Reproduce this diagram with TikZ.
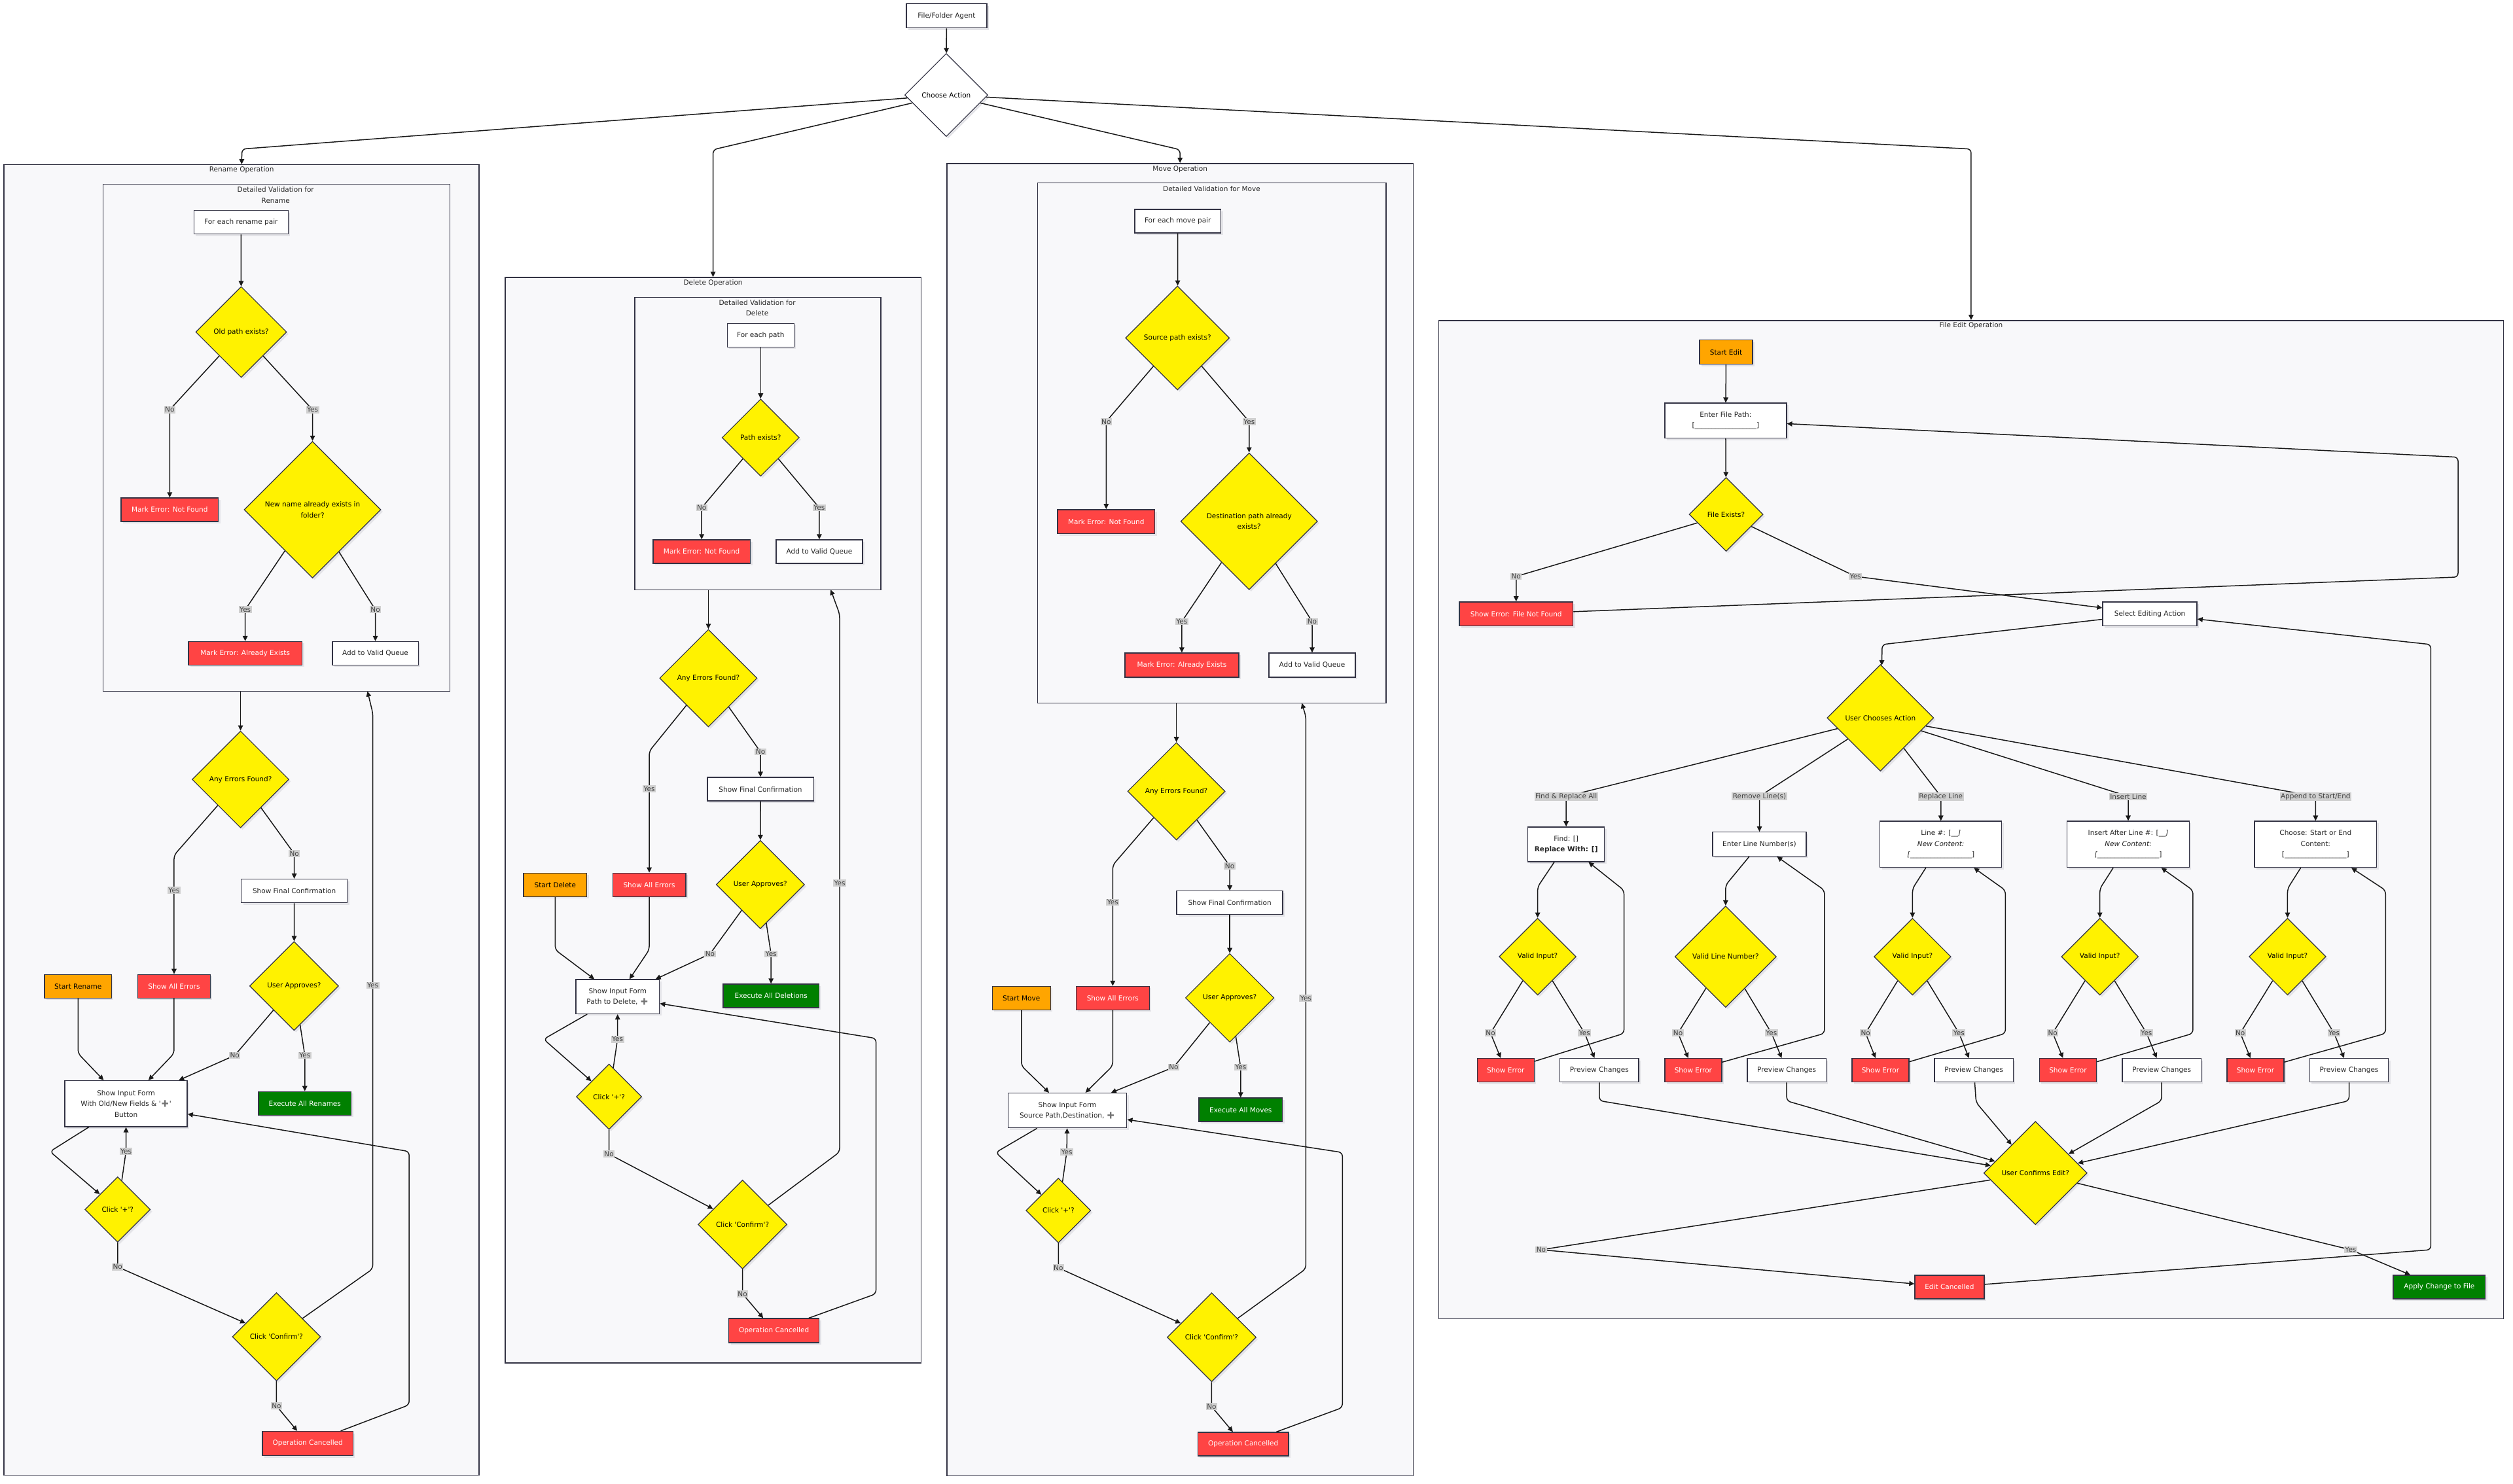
\documentclass[tikz,border=0pt]{standalone}
\usepackage{fontspec}
\setmainfont{DejaVu Sans}
\newfontfamily\emojifont{Noto Emoji}
\usepackage[dvipsnames,svgnames,x11names]{xcolor}
\usepackage{tikz}
\usetikzlibrary{arrows.meta,shapes.geometric,shadows}
\definecolor{frameline}{RGB}{51,51,68}
\definecolor{clusterbg}{RGB}{248,248,250}
\definecolor{errred}{RGB}{255,68,68}
\definecolor{startorange}{RGB}{255,165,0}
\definecolor{okgreen}{RGB}{0,128,0}
\definecolor{labelgray}{RGB}{208,208,208}
\definecolor{shadegray}{RGB}{228,228,232}
\newcommand{\sq}{\textquotesingle}
\newcommand{\plusicon}{{\emojifont\color{black!55}➕}}
\newcommand{\fieldline}{[\_\_\_\_\_\_\_\_\_\_\_\_\_\_\_\_\_\_]}

\begin{document}
\begin{tikzpicture}[font=\fontsize{10.5}{16.5}\selectfont,>={Triangle[length=8pt,width=7.5pt]},x=2.449pt,y=-2.449pt,
  cluster/.style={rectangle,draw=frameline,fill=clusterbg,line width=1.4pt,inner sep=0pt},
  ctitle/.style={text=black!85,align=center,inner sep=1pt},
  box/.style={rectangle,draw=frameline,fill=white,text=black!85,line width=1.4pt,align=center,inner sep=2pt,minimum height=36pt,drop shadow={shadow xshift=3pt,shadow yshift=-3pt,fill=shadegray,opacity=1}},
  errbox/.style={box,fill=errred,text=white},
  startbox/.style={box,fill=startorange,text=black},
  okbox/.style={box,fill=okgreen,text=white},
  dec/.style={diamond,aspect=1,draw=frameline,fill=yellow,text=black,line width=1.2pt,inner sep=0pt,align=center,drop shadow={shadow xshift=3pt,shadow yshift=-3pt,fill=shadegray,opacity=1}},
  edge/.style={->,draw=black!90,line width=1.5pt,rounded corners=6pt},
  elabel/.style={fill=labelgray,text=black!75,inner sep=1.5pt,sharp corners}]
\path[use as bounding box,fill=white] (0,0) rectangle (1568,926);

% groups
\node[cluster,minimum width=726pt,minimum height=2003pt] (rename) at (150.75,511.75) {};
\node[cluster,minimum width=530.5pt,minimum height=775pt] (rnval) at (172.5,273.15) {};
\node[cluster,minimum width=635.3pt,minimum height=1659pt] (delete) at (444.9,511.85) {};
\node[cluster,minimum width=376pt,minimum height=447pt] (delval) at (472.85,276.75) {};
\node[cluster,minimum width=712.2pt,minimum height=2005.7pt] (move) at (736.3,511.5) {};
\node[cluster,minimum width=532.7pt,minimum height=795pt] (mvval) at (756.05,276.5) {};
\node[cluster,minimum width=1627pt,minimum height=1525.7pt] (fileedit) at (1229.85,511.5) {};
\node[ctitle] (rename_t) at (150.75,106) {Rename Operation};
\node[ctitle] (rnval_t) at (172,121.8) {Detailed Validation for\\Rename};
\node[ctitle] (delete_t) at (444.9,176.6) {Delete Operation};
\node[ctitle] (delval_t) at (472.5,192.1) {Detailed Validation for\\Delete};
\node[ctitle] (move_t) at (736.3,105.5) {Move Operation};
\node[ctitle] (mvval_t) at (756,117.7) {Detailed Validation for Move};
\node[ctitle] (fileedit_t) at (1229.85,203.3) {File Edit Operation};

% top
\node[box,minimum width=123pt,minimum height=37pt] (agent) at (590.6,9.9) {File/Folder Agent};
\node[dec,fill=white,minimum size=127pt] (choose) at (590.4,59.3) {Choose Action};

% rename
\node[box,minimum width=144pt] (rn_each) at (150.4,138.7) {For each rename pair};
\node[dec,minimum size=139pt] (rn_old) at (150.5,207.2) {Old path exists?};
\node[errbox,minimum width=148.7pt] (rn_nf) at (105.9,318.1) {Mark Error: Not Found};
\node[dec,minimum size=209pt] (rn_new) at (195,318.1) {New name already exists in\\folder?};
\node[errbox,minimum width=173.7pt] (rn_ae) at (153,407.7) {Mark Error: Already Exists};
\node[box,minimum width=131.5pt] (rn_q) at (234.2,407.7) {Add to Valid Queue};
\node[dec,minimum size=148pt] (rn_err) at (150.1,486.4) {Any Errors Found?};
\node[box,minimum width=162pt] (rn_final) at (183.6,556) {Show Final Confirmation};
\node[dec,minimum size=136pt] (rn_appr) at (183.5,615.3) {User Approves?};
\node[startbox,minimum width=102.4pt] (rn_start) at (48.7,615.5) {Start Rename};
\node[errbox,minimum width=110.8pt] (rn_showerr) at (108.6,615.5) {Show All Errors};
\node[okbox,minimum width=141.6pt] (rn_exec) at (190.2,688.6) {Execute All Renames};
\node[box,minimum width=186.9pt,minimum height=70.3pt] (rn_form) at (78.65,688.75) {Show Input Form\\With Old/New Fields \& \sq\plusicon\sq\\Button};
\node[dec,minimum size=100pt] (rn_plus) at (73.4,754.8) {Click \sq+\sq?};
\node[dec,minimum size=135pt] (rn_conf) at (172.5,834.2) {Click \sq Confirm\sq?};
\node[errbox,minimum width=138.4pt,minimum height=37pt] (rn_cancel) at (192,900.8) {Operation Cancelled};
\coordinate (rn_back) at (229.3,431.4);

% delete
\node[box,minimum width=102pt] (del_each) at (474.6,209.2) {For each path};
\node[dec,minimum size=118pt] (del_path) at (474.6,273.1) {Path exists?};
\node[errbox,minimum width=148.7pt] (del_nf) at (437.8,344.2) {Mark Error: Not Found};
\node[box,minimum width=132pt] (del_q) at (511.2,344.2) {Add to Valid Queue};
\node[dec,minimum size=149pt] (del_err) at (442,423.2) {Any Errors Found?};
\node[box,minimum width=162.4pt] (del_final) at (474.5,492.5) {Show Final Confirmation};
\node[dec,minimum size=135pt] (del_appr) at (474.4,552) {User Approves?};
\node[startbox,minimum width=96.8pt] (del_start) at (346.4,552.2) {Start Delete};
\node[errbox,minimum width=111.6pt] (del_showerr) at (405.1,552.2) {Show All Errors};
\node[okbox,minimum width=146.2pt] (del_exec) at (481.1,621.5) {Execute All Deletions};
\node[box,minimum width=127.6pt,minimum height=52.2pt] (del_form) at (385.4,622) {Show Input Form\\Path to Delete, \plusicon};
\node[dec,minimum size=100pt] (del_plus) at (380,684.4) {Click \sq+\sq?};
\node[dec,minimum size=136pt] (del_conf) at (463.3,764.1) {Click \sq Confirm\sq?};
\node[errbox,minimum width=138pt,minimum height=37pt] (del_cancel) at (482.9,830.4) {Operation Cancelled};
\coordinate (del_back) at (518.3,368);

% move
\node[box,minimum width=131.5pt] (mv_each) at (734.9,138) {For each move pair};
\node[dec,minimum size=159pt] (mv_src) at (734.7,210.9) {Source path exists?};
\node[errbox,minimum width=148.4pt,minimum height=36.7pt] (mv_nf) at (690.2,325.5) {Mark Error: Not Found};
\node[dec,minimum size=209pt] (mv_dst) at (779.4,325.3) {Destination path already\\exists?};
\node[errbox,minimum width=174.1pt,minimum height=37pt] (mv_ae) at (737.4,415.1) {Mark Error: Already Exists};
\node[box,minimum width=131.8pt,minimum height=37pt] (mv_q) at (818.7,415.1) {Add to Valid Queue};
\node[dec,minimum size=149pt] (mv_err) at (734,493.8) {Any Errors Found?};
\node[box,minimum width=162pt] (mv_final) at (767.3,563.4) {Show Final Confirmation};
\node[dec,minimum size=135.5pt] (mv_appr) at (767.3,622.7) {User Approves?};
\node[startbox,minimum width=89pt] (mv_start) at (637.3,622.9) {Start Move};
\node[errbox,minimum width=111.7pt] (mv_showerr) at (694.3,622.9) {Show All Errors};
\node[okbox,minimum width=127.6pt] (mv_exec) at (774.1,692.6) {Execute All Moves};
\node[box,minimum width=181.5pt,minimum height=53pt] (mv_form) at (666,693) {Show Input Form\\Source Path,Destination, \plusicon};
\node[dec,minimum size=99pt] (mv_plus) at (660.4,755.4) {Click \sq+\sq?};
\node[dec,minimum size=136pt] (mv_conf) at (756,834.5) {Click \sq Confirm\sq?};
\node[errbox,minimum width=138.4pt] (mv_cancel) at (775.7,901.2) {Operation Cancelled};
\coordinate (mv_back) at (812.3,438.8);

% file edit
\node[startbox,minimum width=80.8pt,minimum height=37pt] (fe_start) at (1077,219.8) {Start Edit};
\node[box,minimum width=186pt,minimum height=53.4pt] (fe_path) at (1076.7,262.5) {Enter File Path:\\\fieldline};
\node[dec,minimum size=113pt] (fe_exists) at (1077,321) {File Exists?};
\node[errbox,minimum width=173.6pt,minimum height=36.7pt] (fe_nf) at (946,383.1) {Show Error: File Not Found};
\node[box,minimum width=144pt,minimum height=36.7pt] (fe_select) at (1341.4,383.1) {Select Editing Action};
\node[dec,minimum size=163pt] (fe_choose) at (1173.3,448) {User Chooses Action};
\node[box,minimum width=117pt,minimum height=53pt] (fe_find) at (977.2,526.9) {Find: []\\\textbf{Replace With: []}};
\node[box,minimum width=143pt,minimum height=36.7pt] (fe_rmv) at (1097.8,526.8) {Enter Line Number(s)};
\node[box,minimum width=186pt,minimum height=70.5pt] (fe_rpl) at (1211,526.9) {Line \#: [\_\textit{\_]}\\\textit{New Content:}\\\textit{[}\_\_\_\_\_\_\_\_\_\_\_\_\_\_\_\_\_\_]};
\node[box,minimum width=186.6pt,minimum height=70.5pt] (fe_ins) at (1327.9,526.9) {Insert After Line \#: [\_\textit{\_]}\\\textit{New Content:}\\\textit{[}\_\_\_\_\_\_\_\_\_\_\_\_\_\_\_\_\_\_]};
\node[box,minimum width=186.4pt,minimum height=70.5pt] (fe_app) at (1444.8,526.9) {Choose: Start or End\\Content:\\\fieldline};
\node[dec,minimum size=117.6pt] (fe_v1) at (959.4,597) {Valid Input?};
\node[dec,minimum size=155pt] (fe_v2) at (1076.7,597) {Valid Line Number?};
\node[dec,minimum size=117.6pt] (fe_v3) at (1193.3,597) {Valid Input?};
\node[dec,minimum size=117.6pt] (fe_v4) at (1310.2,597) {Valid Input?};
\node[dec,minimum size=117.6pt] (fe_v5) at (1427.3,597) {Valid Input?};
\node[errbox,minimum width=87pt] (fe_e1) at (939.5,667.9) {Show Error};
\node[errbox,minimum width=87pt] (fe_e2) at (1056.5,667.9) {Show Error};
\node[errbox,minimum width=87pt] (fe_e3) at (1173.3,667.9) {Show Error};
\node[errbox,minimum width=87pt] (fe_e4) at (1290.3,667.9) {Show Error};
\node[errbox,minimum width=87pt] (fe_e5) at (1407.3,667.9) {Show Error};
\node[box,minimum width=120.5pt] (fe_p1) at (997.9,667.9) {Preview Changes};
\node[box,minimum width=120.5pt] (fe_p2) at (1114.8,667.9) {Preview Changes};
\node[box,minimum width=120.5pt] (fe_p3) at (1231.6,667.9) {Preview Changes};
\node[box,minimum width=120.5pt] (fe_p4) at (1348.8,667.9) {Preview Changes};
\node[box,minimum width=120.5pt] (fe_p5) at (1465.7,667.9) {Preview Changes};
\node[dec,minimum size=158pt] (fe_confirm) at (1270,732) {User Confirms Edit?};
\node[errbox,minimum width=105.8pt] (fe_cancel) at (1216.4,803.2) {Edit Cancelled};
\node[okbox,minimum width=140.6pt] (fe_apply) at (1522,803.2) {Apply Change to File};

% top edges
\draw[edge] (agent) -- (choose);
\draw[edge] (choose) -- (151,93) -- (rename.north);
\draw[edge] (choose) -- (444.9,93.4) -- (delete.north);
\draw[edge] (choose) -- (736.3,93.4) -- (move.north);
\draw[edge] (choose) -- (1229.85,93) -- (fileedit.north);

% rename edges
\draw[edge] (rn_each) -- (rn_old);
\draw[edge] (rn_old) -- (105.9,255.7) node[elabel] {No} -- (rn_nf);
\draw[edge] (rn_old) -- (195,255.7) node[elabel] {Yes} -- (rn_new);
\draw[edge] (rn_new) -- (153,380.5) node[elabel] {Yes} -- (rn_ae);
\draw[edge] (rn_new) -- (234.2,380.5) node[elabel] {No} -- (rn_q);
\draw[edge] (rnval.south -| rn_err) -- (rn_err);
\draw[edge] (rn_err) -- (108.6,533.7) -- (108.6,555.6) node[elabel] {Yes} -- (rn_showerr);
\draw[edge] (rn_err) -- (183.6,532.8) node[elabel] {No} -- (rn_final);
\draw[edge] (rn_final) -- (rn_appr);
\draw[edge] (rn_appr) -- (146.5,658.6) node[elabel] {No} -- (rn_form);
\draw[edge] (rn_appr) -- (190.2,658.6) node[elabel] {Yes} -- (rn_exec);
\draw[edge] (rn_start) -- (48.7,657.4) -- (rn_form);
\draw[edge] (rn_showerr) -- (108.6,657.4) -- (rn_form);
\draw[edge] (rn_form) -- (31.2,718.6) -- (rn_plus);
\draw[edge] (rn_plus) -- (78.6,718.6) node[elabel] {Yes} -- (rn_form);
\draw[edge] (rn_plus) -- (73.4,790.6) node[elabel] {No} -- (rn_conf);
\draw[edge] (rn_conf) -- (172.5,877.4) node[elabel] {No} -- (rn_cancel);
\draw[edge] (rn_cancel) -- (255.3,876.7) -- (255.3,718.6) -- (rn_form);
\draw[edge] (rn_conf) -- (232.6,791.8) -- node[elabel,pos=0.51] {Yes} (232.6,445) -- (rn_back);

% delete edges
\draw[edge] (del_each) -- (del_path);
\draw[edge] (del_path) -- (437.8,316.9) node[elabel] {No} -- (del_nf);
\draw[edge] (del_path) -- (511.2,316.9) node[elabel] {Yes} -- (del_q);
\draw[edge] (delval.south -| del_err) -- (del_err);
\draw[edge] (del_err) -- (405.1,468.8) -- (405.1,492.2) node[elabel] {Yes} -- (del_showerr);
\draw[edge] (del_err) -- (474.5,469.2) node[elabel] {No} -- (del_final);
\draw[edge] (del_final) -- (del_appr);
\draw[edge] (del_appr) -- (443,595.3) node[elabel] {No} -- (del_form);
\draw[edge] (del_appr) -- (481.1,595.3) node[elabel] {Yes} -- (del_exec);
\draw[edge] (del_start) -- (346.4,592.7) -- (del_form);
\draw[edge] (del_showerr) -- (405.1,592.7) -- (del_form);
\draw[edge] (del_form) -- (339.2,648.5) -- (del_plus);
\draw[edge] (del_plus) -- (385.3,648.5) node[elabel] {Yes} -- (del_form);
\draw[edge] (del_plus) -- (380,720.2) node[elabel] {No} -- (del_conf);
\draw[edge] (del_conf) -- (463.3,807.4) node[elabel] {No} -- (del_cancel);
\draw[edge] (del_cancel) -- (546.6,807.4) -- (546.6,648) -- (del_form);
\draw[edge] (del_conf) -- (523.9,718.9) -- node[elabel,pos=0.5] {Yes} (523.9,383.3) -- (del_back);

% move edges
\draw[edge] (mv_each) -- (mv_src);
\draw[edge] (mv_src) -- (690.2,263.1) node[elabel] {No} -- (mv_nf);
\draw[edge] (mv_src) -- (779.4,263.1) node[elabel] {Yes} -- (mv_dst);
\draw[edge] (mv_dst) -- (737.4,387.9) node[elabel] {Yes} -- (mv_ae);
\draw[edge] (mv_dst) -- (818.7,387.9) node[elabel] {No} -- (mv_q);
\draw[edge] (mvval.south -| mv_err) -- (mv_err);
\draw[edge] (mv_err) -- (694.3,539.9) -- (694.3,563.1) node[elabel] {Yes} -- (mv_showerr);
\draw[edge] (mv_err) -- (767.3,540.4) node[elabel] {No} -- (mv_final);
\draw[edge] (mv_final) -- (mv_appr);
\draw[edge] (mv_appr) -- (732.3,666) node[elabel] {No} -- (mv_form);
\draw[edge] (mv_appr) -- (774.1,666) node[elabel] {Yes} -- (mv_exec);
\draw[edge] (mv_start) -- (637.3,665.1) -- (mv_form);
\draw[edge] (mv_showerr) -- (694.3,665.1) -- (mv_form);
\draw[edge] (mv_form) -- (621.3,719.2) -- (mv_plus);
\draw[edge] (mv_plus) -- (665.6,718.9) node[elabel] {Yes} -- (mv_form);
\draw[edge] (mv_plus) -- (660.4,791.2) node[elabel] {No} -- (mv_conf);
\draw[edge] (mv_conf) -- (756,877.8) node[elabel] {No} -- (mv_cancel);
\draw[edge] (mv_cancel) -- (837.6,878.4) -- (837.6,719.2) -- (mv_form);
\draw[edge] (mv_conf) -- (814.8,791.8) -- node[elabel,pos=0.49] {Yes} (814.8,447.2) -- (mv_back);

% file edit edges
\draw[edge] (fe_start) -- (fe_path);
\draw[edge] (fe_path) -- (fe_exists);
\draw[edge] (fe_exists) -- (946,359.7) node[elabel] {No} -- (fe_nf);
\draw[edge] (fe_exists) -- (1157.7,359.7) node[elabel] {Yes} -- (fe_select);
\draw[edge] (fe_nf) -- (1533.7,360.1) -- (1533.7,285.3) -- (fe_path);
\draw[edge] (fe_select) -- (1174.4,402.2) -- (fe_choose);
\draw[edge] (fe_choose) -- (977.2,497) node[elabel] {Find \& Replace All} -- (fe_find);
\draw[edge] (fe_choose) -- (1097.8,497) node[elabel] {Remove Line(s)} -- (fe_rmv);
\draw[edge] (fe_choose) -- (1211,497) node[elabel] {Replace Line} -- (fe_rpl);
\draw[edge] (fe_choose) -- (1327.9,497) node[elabel] {Insert Line} -- (fe_ins);
\draw[edge] (fe_choose) -- (1444.8,497) node[elabel] {Append to Start/End} -- (fe_app);
\draw[edge] (fe_find) -- (959.4,553.5) -- (fe_v1);
\draw[edge] (fe_rmv) -- (1076.7,552.4) -- (fe_v2);
\draw[edge] (fe_rpl) -- (1193.3,554.6) -- (fe_v3);
\draw[edge] (fe_ins) -- (1310.2,554.6) -- (fe_v4);
\draw[edge] (fe_app) -- (1427.3,554.6) -- (fe_v5);
\draw[edge] (fe_v1) -- (930,644.7) node[elabel] {No} -- (fe_e1);
\draw[edge] (fe_v1) -- (988.7,644.7) node[elabel] {Yes} -- (fe_p1);
\draw[edge] (fe_v2) -- (1047,644.7) node[elabel] {No} -- (fe_e2);
\draw[edge] (fe_v2) -- (1105.3,644.7) node[elabel] {Yes} -- (fe_p2);
\draw[edge] (fe_v3) -- (1164,644.7) node[elabel] {No} -- (fe_e3);
\draw[edge] (fe_v3) -- (1222.3,644.7) node[elabel] {Yes} -- (fe_p3);
\draw[edge] (fe_v4) -- (1280.8,644.7) node[elabel] {No} -- (fe_e4);
\draw[edge] (fe_v4) -- (1339.3,644.7) node[elabel] {Yes} -- (fe_p4);
\draw[edge] (fe_v5) -- (1397.8,644.7) node[elabel] {No} -- (fe_e5);
\draw[edge] (fe_v5) -- (1456.3,644.7) node[elabel] {Yes} -- (fe_p5);
\draw[edge] (fe_e1) -- (1013.3,644.9) -- (1013.3,555.6) -- (fe_find);
\draw[edge] (fe_e2) -- (1138.4,644.9) -- (1138.4,555.6) -- (fe_rmv);
\draw[edge] (fe_e3) -- (1251.3,644.9) -- (1251.3,555.6) -- (fe_rpl);
\draw[edge] (fe_e4) -- (1368.3,644.9) -- (1368.3,555.6) -- (fe_ins);
\draw[edge] (fe_e5) -- (1488.5,644.9) -- (1488.5,555.6) -- (fe_app);
\draw[edge] (fe_p1) -- (997.9,686.9) -- (fe_confirm);
\draw[edge] (fe_p2) -- (1114.8,687) -- (fe_confirm);
\draw[edge] (fe_p3) -- (1233,688) -- (fe_confirm);
\draw[edge] (fe_p4) -- (1348.8,686.9) -- (fe_confirm);
\draw[edge] (fe_p5) -- (1465.7,686.9) -- (fe_confirm);
\draw[edge] (fe_confirm) -- (961.6,779.9) node[elabel] {No} -- (fe_cancel);
\draw[edge] (fe_confirm) -- (1466.7,779.9) node[elabel] {Yes} -- (fe_apply);
\draw[edge] (fe_cancel) -- (1516.7,779.9) -- (1516.7,402.2) -- (fe_select);
\end{tikzpicture}
\end{document}
